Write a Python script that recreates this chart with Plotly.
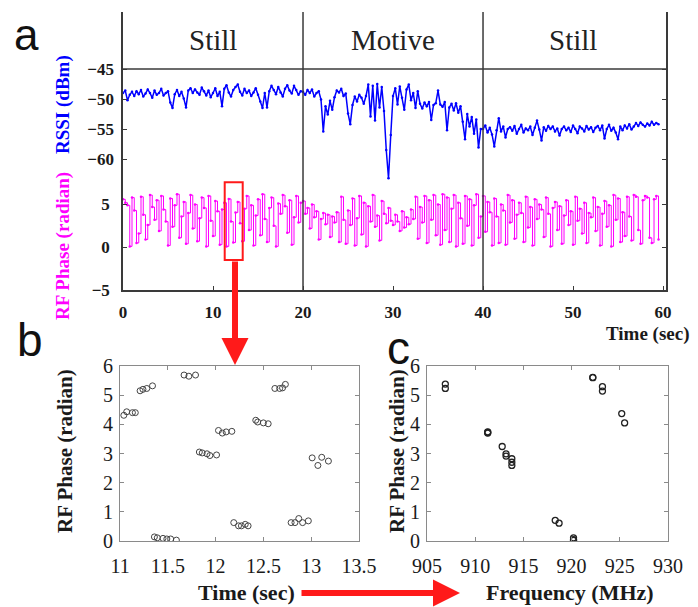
import plotly.graph_objects as go

# page is rendered with an 8px body margin; figure sized to fill the rest
PAGE_W, PAGE_H = 698, 607
OFF = 8
W, H = PAGE_W - OFF, PAGE_H - OFF

# ---------------- data ----------------
t_step = 0.25  # seconds between samples in panel a

rssi_dbm = [
    -49.0, -48.6, -50.2, -49.3, -48.8, -49.5, -48.7, -49.2,
    -48.5, -49.6, -49.1, -48.4, -49.0, -49.8, -48.6, -49.3,
    -49.0, -48.3, -49.4, -49.0, -48.7, -50.6, -51.5, -49.2,
    -48.5, -49.5, -48.8, -49.9, -51.4, -48.6, -48.2, -49.0,
    -48.4, -48.9, -49.3, -48.1, -48.7, -49.4, -48.6, -49.7,
    -49.0, -48.2, -49.5, -48.8, -51.2, -48.3, -47.7, -48.9,
    -49.6, -48.5, -48.0, -47.6, -48.8, -49.4, -48.3, -49.0,
    -48.6, -49.5, -48.9, -48.2, -49.3, -50.4, -51.5, -49.0,
    -51.4, -48.7, -47.8, -48.5, -49.2, -48.0, -48.9, -49.6,
    -48.3, -47.7, -48.6, -49.1, -47.8, -48.5, -49.3, -48.7,
    # motive 20-40 s
    -48.8, -49.3, -48.5, -49.0, -48.4, -49.6, -49.0, -48.7,
    -50.1, -55.4, -51.2, -52.6, -50.3, -51.8, -49.7, -48.6,
    -48.9, -48.3, -49.5, -49.1, -52.4, -54.2, -51.0, -49.6,
    -50.4, -49.3, -49.8, -50.8, -49.5, -47.6, -52.9, -47.8,
    -53.6, -47.5, -51.4, -48.0, -52.0, -58.5, -63.2, -56.0,
    -49.5, -48.2, -50.9, -47.9, -49.8, -51.8, -48.4, -47.6,
    -50.2, -49.0, -51.5, -48.7, -50.8, -51.6, -50.6, -51.2,
    -50.5, -53.5, -51.0, -50.7, -48.6, -50.9, -51.3, -50.5,
    -55.2, -51.4, -50.8, -51.9, -50.7, -52.3, -51.2, -53.8,
    -56.7, -52.5, -54.6, -53.0, -55.8, -53.4, -58.1, -55.0,
    # still 40-60 s
    -55.0, -54.4, -55.6, -54.8, -55.9, -57.9, -55.2, -53.2,
    -55.4, -54.6, -56.4, -55.0, -54.7, -55.3, -54.5, -55.8,
    -55.0, -54.3, -55.6, -54.9, -55.2, -54.6, -56.0, -54.8,
    -53.6, -55.1, -56.9, -54.7, -55.3, -54.5, -55.0, -54.6,
    -55.4, -54.9, -56.1, -55.0, -54.6, -55.2, -54.8, -55.5,
    -54.4, -55.0, -55.7, -54.6, -54.9, -55.4, -54.5, -55.1,
    -54.7, -55.5, -54.8, -54.5, -55.2, -54.4, -56.6, -55.0,
    -54.3, -55.3, -54.8, -55.6, -56.7, -54.6, -55.2, -54.4,
    -54.9, -54.2, -55.1, -54.6, -54.0, -54.5, -53.9, -54.3,
    -54.6, -54.1, -54.4, -53.8, -54.3, -54.0, -54.2,
]

phase_rad = [
    5.6, 5.2, 4.9, 0.1, 5.8, 4.3, 0.5, 1.6,
    5.9, 3.8, 0.9, 2.6, 6.1, 4.7, 3.2, 5.5,
    1.9, 6.0, 4.4, 3.0, 0.2, 5.7, 2.4, 4.9,
    6.2, 1.1, 3.6, 5.3, 0.4, 4.0, 6.1, 2.2,
    5.0, 0.7, 3.4, 5.8, 4.6, 0.1, 6.0, 3.1,
    1.3, 5.4, 4.2, 0.3, 4.4, 5.2, 0.1, 5.65,
    3.0, 0.55, 4.05, 5.3, 2.8, 0.7, 4.5, 6.0,
    2.0, 4.9, 0.2, 3.7, 5.6, 1.4, 6.2, 3.3,
    0.6, 4.6, 5.8, 2.5, 0.1, 5.1, 3.9, 6.1,
    4.8, 1.7, 5.5, 0.3, 3.5, 6.0, 2.9, 5.2,
    # motive 20-40 s
    5.4, 3.9, 4.6, 2.2, 5.0, 3.5, 4.2, 0.9,
    3.3, 4.0, 2.7, 3.8, 1.2, 3.6, 2.9, 4.1,
    0.6, 5.9, 3.2, 0.4, 4.3, 2.6, 5.7, 0.2,
    3.4, 6.0, 1.5, 5.2, 0.1, 4.8, 3.0, 6.1,
    2.4, 3.7, 0.8, 5.4, 3.9, 2.8, 4.6, 3.1,
    2.6, 3.8, 3.0, 1.9, 4.2, 2.3, 3.5, 2.7,
    4.4, 3.3, 5.9, 1.0, 4.7, 2.9, 6.0, 0.5,
    5.5, 3.2, 6.1, 1.4, 5.0, 0.3, 6.2, 2.0,
    5.8, 0.6, 4.5, 6.1, 0.1, 5.2, 3.4, 0.4,
    6.0, 2.5, 5.6, 0.2, 4.9, 6.2, 1.1, 3.6,
    # still 40-60 s
    6.0, 1.8, 5.3, 4.1, 0.2, 5.7, 3.6, 0.5,
    5.0, 4.3, 0.3, 6.1, 2.9, 5.5, 1.0, 3.8,
    5.2, 4.0, 0.6, 5.9, 2.3, 4.7, 0.2, 5.6,
    3.3, 5.0, 4.4, 1.2, 5.8, 3.9, 0.1, 4.6,
    5.3, 2.0, 4.8, 0.4, 3.7, 5.5, 2.6, 4.2,
    0.3, 5.9, 3.1, 4.5, 1.6, 5.2, 0.5, 4.0,
    3.5, 5.8, 1.9, 4.7, 0.2, 3.9, 5.4, 2.4,
    4.9, 0.1, 6.1, 3.2, 5.7, 0.6, 4.1, 1.3,
    5.9, 3.6, 0.8, 6.1, 5.9, 2.0, 0.4, 5.5,
    6.0, 5.8, 1.1, 0.5, 5.6, 6.0, 0.9,
]

phase_labels = ["Still", "Motive", "Still"]
phase_label_x = [10, 30, 50]
phase_bounds = [20, 40]
zoom_window_t = [11.3, 13.3]
zoom_window_phase = [-1.5, 7.6]

# panel b: zoomed phase readings
b_time = [11.04, 11.07, 11.13, 11.16,
          11.21, 11.24, 11.28, 11.34,
          11.36, 11.39, 11.45, 11.49, 11.53, 11.59,
          11.67, 11.72, 11.79,
          11.83, 11.86, 11.91, 11.94, 12.01,
          12.03, 12.07, 12.11, 12.17,
          12.19, 12.24, 12.27, 12.31, 12.34,
          12.42, 12.44, 12.50, 12.55,
          12.62, 12.67, 12.70, 12.73,
          12.79, 12.83, 12.87, 12.91, 12.97,
          13.01, 13.07, 13.11, 13.18]
b_phase = [4.31, 4.43, 4.40, 4.40,
           5.15, 5.20, 5.23, 5.32,
           0.14, 0.11, 0.09, 0.07, 0.07, 0.03,
           5.69, 5.65, 5.69,
           3.05, 3.02, 2.99, 2.93, 2.95,
           3.79, 3.70, 3.74, 3.76,
           0.63, 0.52, 0.52, 0.57, 0.52,
           4.14, 4.08, 4.05, 4.02,
           5.23, 5.23, 5.25, 5.37,
           0.63, 0.63, 0.77, 0.63, 0.69,
           2.85, 2.59, 2.87, 2.74]

# panel c: phase vs channel frequency
c_freq = [906.9, 906.9, 911.3, 911.3, 911.3, 912.8, 913.2, 913.2,
          913.8, 913.8, 913.8, 918.3, 918.7, 920.2, 920.2, 920.2,
          922.2, 922.2, 923.2, 923.2, 925.2, 925.5]
c_phase = [5.38, 5.23, 3.74, 3.70, 3.72, 3.24, 2.99, 2.91,
           2.82, 2.70, 2.59, 0.71, 0.61, 0.11, 0.05, 0.02,
           5.61, 5.60, 5.29, 5.14, 4.37, 4.05]

# ---------------- helpers (page pixel -> paper fraction) ----------------
def px(x):
    return (x - OFF) / W

def py(y):
    return 1 - (y - OFF) / H

SERIF = "Liberation Serif"
SANS = "Liberation Sans"
AX = "#3a3a3a"
GRID_AX = "#8a8a8a"

fig = go.Figure()

fig.add_trace(go.Scatter(
    x0=0, dx=t_step, y=rssi_dbm, yaxis="y2", xaxis="x",
    mode="lines+markers", line=dict(color="#0000ff", width=1.5),
    marker=dict(color="#0000ff", size=2.5), hoverinfo="skip"))
fig.add_trace(go.Scatter(
    x0=0, dx=t_step, y=phase_rad, yaxis="y", xaxis="x",
    mode="lines+markers", line=dict(color="#ff00ff", width=1.0, shape="hv"),
    marker=dict(color="#ff00ff", size=2.5), hoverinfo="skip"))

fig.add_trace(go.Scatter(
    x=b_time, y=b_phase, xaxis="x2", yaxis="y3", mode="markers",
    marker=dict(symbol="circle-open", size=6, color="#444", line=dict(width=1)),
    hoverinfo="skip"))
fig.add_trace(go.Scatter(
    x=c_freq, y=c_phase, xaxis="x3", yaxis="y4", mode="markers",
    marker=dict(symbol="circle-open", size=6, color="#222", line=dict(width=1.3)),
    hoverinfo="skip"))

tf_a = dict(family=SERIF, size=17, color="#1a1a1a", weight="bold")
tf_bc = dict(family=SERIF, size=20, color="#1a1a1a")

a_dom_x = [px(123), px(666)]
a_dom_y = [py(290), py(12)]
b_dom_y = [py(541), py(366)]

common = dict(showgrid=False, zeroline=False, automargin=False)

fig.update_layout(
    width=W, height=H,
    margin=dict(l=0, r=0, t=0, b=0, pad=0, autoexpand=False),
    paper_bgcolor="white", plot_bgcolor="white", showlegend=False,
    xaxis=dict(domain=a_dom_x, range=[0, 60.33], anchor="y",
               tickvals=[0, 10, 20, 30, 40, 50, 60], ticks="inside", ticklen=4,
               tickcolor=AX, showline=True, linecolor=AX, linewidth=1.5,
               ticklabelstandoff=6, tickfont=tf_a, **common),
    yaxis=dict(domain=a_dom_y, range=[-5, 27.5], anchor="x",
               tickvals=[-5, 0, 5], ticks="inside", ticklen=4, tickcolor=AX,
               showline=True, linecolor=AX, linewidth=1.5, mirror="ticks",
               ticklabelstandoff=8, tickfont=tf_a, **common),
    yaxis2=dict(overlaying="y", side="left", anchor="x",
                range=[-81.83, -35.5], tickvals=[-45, -50, -55, -60],
                ticks="inside", ticklen=4, tickcolor=AX, showline=False,
                mirror="ticks", ticklabelstandoff=8, tickfont=tf_a, **common),
    xaxis4=dict(overlaying="x", anchor="free", position=py(69),
                range=[0, 60.33], tickvals=[0, 10, 20, 30, 40, 50, 60],
                ticks="outside", ticklen=4, tickcolor=AX, showticklabels=False,
                showline=False, **common),
    xaxis2=dict(domain=[px(120), px(359)], range=[11, 13.5], anchor="y3",
                dtick=0.5, ticks="inside", ticklen=4, tickcolor=GRID_AX,
                showline=True, linecolor=GRID_AX, linewidth=1, mirror="ticks",
                ticklabelstandoff=7, tickfont=tf_bc, **common),
    yaxis3=dict(domain=b_dom_y, range=[0, 6], anchor="x2", dtick=1,
                ticks="inside", ticklen=4, tickcolor=GRID_AX, showline=True,
                linecolor=GRID_AX, linewidth=1, mirror="ticks",
                ticklabelstandoff=2, tickfont=tf_bc, **common),
    xaxis3=dict(domain=[px(427), px(668)], range=[905, 930], anchor="y4",
                dtick=5, ticks="inside", ticklen=4, tickcolor=GRID_AX,
                showline=True, linecolor=GRID_AX, linewidth=1, mirror="ticks",
                ticklabelstandoff=7, tickfont=tf_bc, **common),
    yaxis4=dict(domain=b_dom_y, range=[0, 6], anchor="x3", dtick=1,
                ticks="inside", ticklen=4, tickcolor=GRID_AX, showline=True,
                linecolor=GRID_AX, linewidth=1, mirror="ticks",
                ticklabelstandoff=2, tickfont=tf_bc, **common),
)

shapes = []
for xb in phase_bounds:
    shapes.append(dict(type="line", xref="x", yref="paper", x0=xb, x1=xb,
                       y0=py(290), y1=py(12), line=dict(color=AX, width=1.5)))
shapes.append(dict(type="line", xref="paper", yref="y2", x0=px(123), x1=px(666),
                   y0=-45, y1=-45, line=dict(color=AX, width=1.5)))
shapes.append(dict(type="rect", xref="x", yref="y",
                   x0=zoom_window_t[0], x1=zoom_window_t[1],
                   y0=zoom_window_phase[0], y1=zoom_window_phase[1],
                   line=dict(color="#ff1a1a", width=2)))
fig.update_layout(shapes=shapes)

ann = []
for lab, xl in zip(phase_labels, phase_label_x):
    ann.append(dict(text=lab, x=xl, xref="x", y=py(40), yref="paper",
                    xanchor="center", yanchor="middle", showarrow=False,
                    font=dict(family=SERIF, size=29, color="#222")))

ann += [
    dict(text="a", x=px(12), y=py(OFF), xanchor="left", yanchor="top",
         font=dict(family=SANS, size=44, color="#111")),
    dict(text="b", x=px(15), y=py(368), xanchor="left", yanchor="bottom",
         font=dict(family=SANS, size=46, color="#111")),
    dict(text="c", x=px(385), y=py(376), xanchor="left", yanchor="bottom",
         font=dict(family=SANS, size=46, color="#111")),
    dict(text="RSSI (dBm)", x=px(63), y=py(104), textangle=-90,
         font=dict(family=SERIF, size=19, color="#0000ff", weight="bold")),
    dict(text="RF Phase (radian)", x=px(63), y=py(246), textangle=-90,
         font=dict(family=SERIF, size=19, color="#ff00ff", weight="bold")),
    dict(text="Time (sec)", x=px(604), y=py(334), xanchor="left",
         font=dict(family=SERIF, size=19, color="#1a1a1a", weight="bold")),
    dict(text="RF Phase (radian)", x=px(65), y=py(451), textangle=-90,
         font=dict(family=SERIF, size=21, color="#1a1a1a", weight="bold")),
    dict(text="Time (sec)", x=px(246), y=py(592),
         font=dict(family=SERIF, size=22, color="#1a1a1a", weight="bold")),
    dict(text="RF Phase (radian)", x=px(397), y=py(451), textangle=-90,
         font=dict(family=SERIF, size=21, color="#1a1a1a", weight="bold")),
    dict(text="Frequency (MHz)", x=px(570), y=py(592),
         font=dict(family=SERIF, size=22, color="#1a1a1a", weight="bold")),
]
for a in ann:
    a.setdefault("xref", "paper")
    a.setdefault("yref", "paper")
    a.setdefault("xanchor", "center")
    a.setdefault("yanchor", "middle")
    a.setdefault("showarrow", False)

# red arrows
ann.append(dict(text="", x=px(235), y=py(365), xref="paper", yref="paper",
                showarrow=True, ax=0, ay=-105, arrowcolor="#ff1a1a",
                arrowwidth=6, arrowhead=2, arrowsize=0.9))
ann.append(dict(text="", x=px(460), y=py(593), xref="paper", yref="paper",
                showarrow=True, ax=-160, ay=0, arrowcolor="#ff1a1a",
                arrowwidth=6, arrowhead=2, arrowsize=0.9))
fig.update_layout(annotations=ann)

fig.write_html("out.html")
